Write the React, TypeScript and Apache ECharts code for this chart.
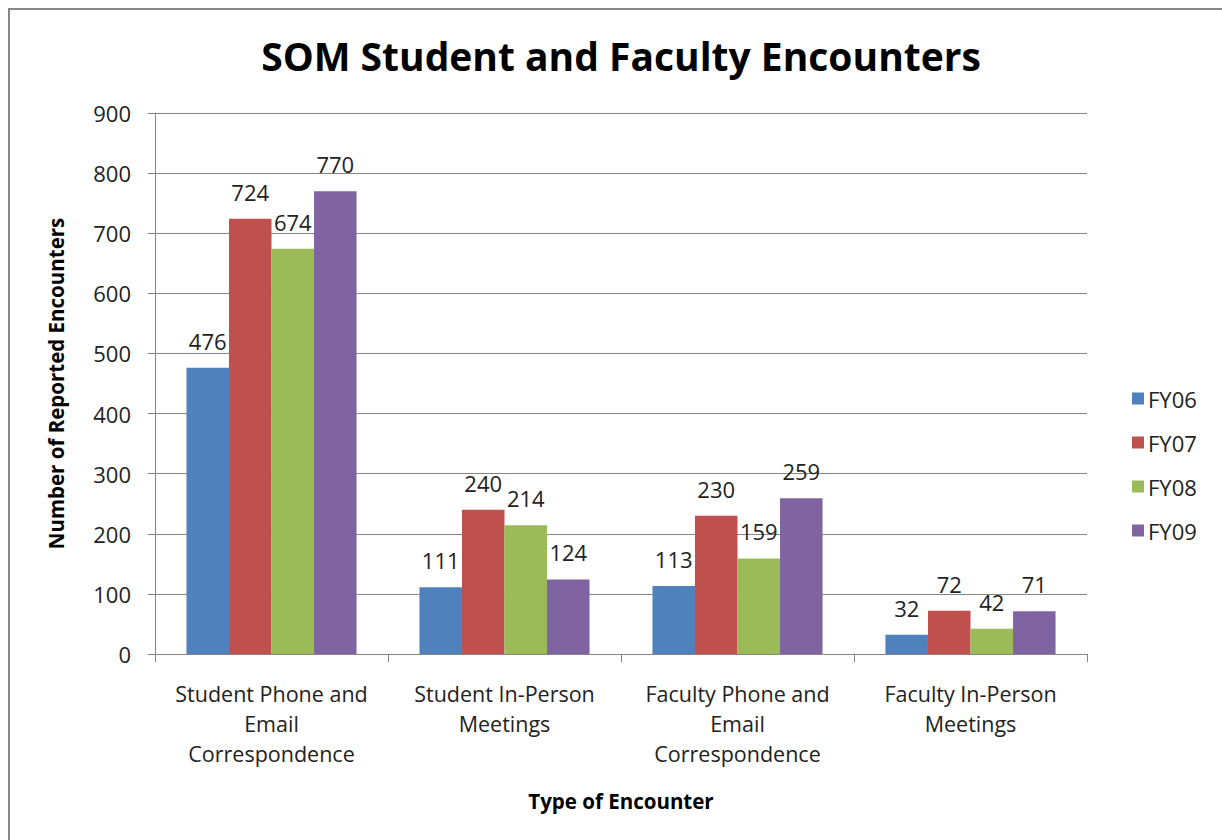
import React, { useEffect, useRef } from "react";
import * as echarts from "echarts";

const categories = [
  "Student Phone and\nEmail\nCorrespondence",
  "Student In-Person\nMeetings",
  "Faculty Phone and\nEmail\nCorrespondence",
  "Faculty In-Person\nMeetings",
];
const seriesNames = ["FY06", "FY07", "FY08", "FY09"];
const fy06 = [476, 111, 113, 32];
const fy07 = [724, 240, 230, 72];
const fy08 = [674, 214, 159, 42];
const fy09 = [770, 124, 259, 71];
const colors = ["#4F81BD", "#C0504D", "#9BBB59", "#8064A2"];

const FONT = "'Open Sans', sans-serif";

export default function App() {
  const ref = useRef<HTMLDivElement>(null);
  useEffect(() => {
    if (!ref.current) return;
    const chart = echarts.init(ref.current, null, { renderer: "svg" });
    const values = [fy06, fy07, fy08, fy09];
    chart.setOption({
      animation: false,
      textStyle: { fontFamily: FONT },
      title: {
        text: "SOM Student and Faculty Encounters",
        left: 616,
        textAlign: "center",
        top: 31,
        textStyle: { fontFamily: FONT, fontSize: 39, fontWeight: "bold", color: "#000" },
      },
      legend: {
        orient: "vertical",
        left: 1127,
        top: 382,
        itemWidth: 12,
        itemHeight: 12,
        itemGap: 21,
        icon: "rect",
        data: seriesNames,
        textStyle: { fontFamily: FONT, fontSize: 22, color: "#222", lineHeight: 23, padding: [0, 0, 0, -1] },
      },
      grid: { left: 155, top: 113, width: 932, height: 541, containLabel: false },
      xAxis: {
        type: "category",
        data: categories,
        name: "Type of Encounter",
        nameLocation: "middle",
        nameGap: 136,
        nameTextStyle: { fontFamily: FONT, fontSize: 20.5, fontWeight: "bold", color: "#000" },
        axisLine: { show: true, lineStyle: { color: "#868686", width: 1 } },
        axisTick: { show: true, alignWithLabel: false, length: 8, lineStyle: { color: "#868686" } },
        axisLabel: { fontFamily: FONT, fontSize: 21.5, color: "#222", lineHeight: 30, margin: 24, interval: 0 },
      },
      yAxis: {
        type: "value",
        min: 0,
        max: 900,
        interval: 100,
        name: "Number of Reported Encounters",
        nameLocation: "middle",
        nameRotate: 90,
        nameGap: 89,
        nameTextStyle: { fontFamily: FONT, fontSize: 20.5, fontWeight: "bold", color: "#000" },
        axisLine: { show: true, lineStyle: { color: "#868686", width: 1 } },
        axisTick: { show: true, length: 7, lineStyle: { color: "#868686" } },
        splitLine: { show: true, lineStyle: { color: "#868686", width: 1 } },
        axisLabel: { fontFamily: FONT, fontSize: 22, color: "#222", margin: 24 },
      },
      series: seriesNames.map((n, i) => ({
        name: n,
        type: "bar",
        data: values[i],
        barGap: "0%",
        barCategoryGap: "27%",
        itemStyle: { color: colors[i] },
        label: {
          show: true,
          position: "top",
          distance: 16,
          fontFamily: FONT,
          fontSize: 22,
          color: "#222",
        },
      })),
      graphic: [
        {
          type: "polyline",
          shape: { points: [[9, 840], [9, 9], [1222, 9]] },
          style: { stroke: "#868686", lineWidth: 2, fill: "none" },
          silent: true,
        },
      ],
    });
    return () => chart.dispose();
  }, []);
  return (
    <div
      ref={ref}
      style={{ position: "fixed", left: 0, top: 0, width: 1222, height: 840, background: "#fff" }}
    />
  );
}
